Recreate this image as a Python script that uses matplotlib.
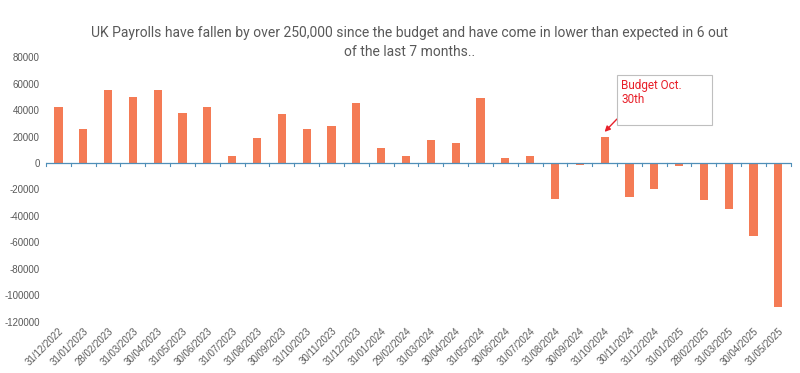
import matplotlib
matplotlib.use('Agg')
import matplotlib.pyplot as plt
import numpy as np

# Monthly change in UK payrolled employees
dates = ['31/12/2022', '31/01/2023', '28/02/2023', '31/03/2023', '30/04/2023',
         '31/05/2023', '30/06/2023', '31/07/2023', '31/08/2023', '30/09/2023',
         '31/10/2023', '30/11/2023', '31/12/2023', '31/01/2024', '29/02/2024',
         '31/03/2024', '30/04/2024', '31/05/2024', '30/06/2024', '31/07/2024',
         '31/08/2024', '30/09/2024', '31/10/2024', '30/11/2024', '31/12/2024',
         '31/01/2025', '28/02/2025', '31/03/2025', '30/04/2025', '31/05/2025']
changes = [42000, 26000, 55000, 50000, 55000,
           38000, 42000, 5000, 19000, 37000,
           26000, 28000, 45000, 11000, 5000,
           17000, 15000, 49000, 3500, 5000,
           -27000, -1500, 20000, -26000, -20000,
           -2500, -28000, -35000, -55000, -109000]
yticks = [80000, 60000, 40000, 20000, 0, -20000, -40000, -60000, -80000, -100000, -120000]
budget_label = 'Budget Oct.         \n30th\n'
budget_idx = dates.index('31/10/2024')

grey = '#595959'
bar_col = '#F47B55'
axis_col = '#4F8FB8'

fig = plt.figure(figsize=(8, 3.73), dpi=100)
ax = fig.add_axes([0.0575, 0.137, 0.931, 0.710])

x = np.arange(len(dates))
ax.bar(x, changes, width=0.33, color=bar_col, zorder=2)

ax.set_xlim(-0.5, len(dates) - 0.5)
ax.set_ylim(-120000, 80000)
ax.set_yticks(yticks)
ax.set_yticklabels([str(v) for v in yticks], fontsize=7, color=grey,
                   family='Liberation Sans')
ax.tick_params(axis='y', length=0, pad=4.5)

for s in ['top', 'right', 'left', 'bottom']:
    ax.spines[s].set_visible(False)

# zero line with category boundary ticks, drawn over the bars like Excel
ax.axhline(0, color=axis_col, linewidth=0.9, zorder=5)
for b in np.arange(-0.5, len(dates), 1.0):
    ax.plot([b, b], [0, -2200], color=axis_col, linewidth=0.8, zorder=5, clip_on=False)

ax.set_xticks(x)
ax.set_xticklabels(dates, rotation=45, ha='right', rotation_mode='anchor',
                   fontsize=7, color=grey, family='Liberation Sans')
ax.tick_params(axis='x', length=0, pad=3)

fig.text(0.512, 0.887, 'UK Payrolls have fallen by over 250,000 since the budget and have come in lower than expected in 6 out\nof the last 7 months..',
         ha='center', va='center', fontsize=10, color=grey, family='Roboto',
         linespacing=1.45)

ax.annotate(budget_label, xy=(budget_idx, changes[budget_idx] + 3500),
            xytext=(budget_idx + 0.68, 63500), fontsize=8.5, color='#E8202A',
            ha='left', va='top', family='Roboto', linespacing=1.15,
            bbox=dict(boxstyle='square,pad=0.35', fc='white', ec='#BFBFBF', lw=0.8),
            arrowprops=dict(arrowstyle='-|>', color='#E8202A', lw=1,
                            mutation_scale=8, shrinkA=0, shrinkB=0,
                            relpos=(0.02, 0.2)))

plt.savefig('out.png', dpi=100)
